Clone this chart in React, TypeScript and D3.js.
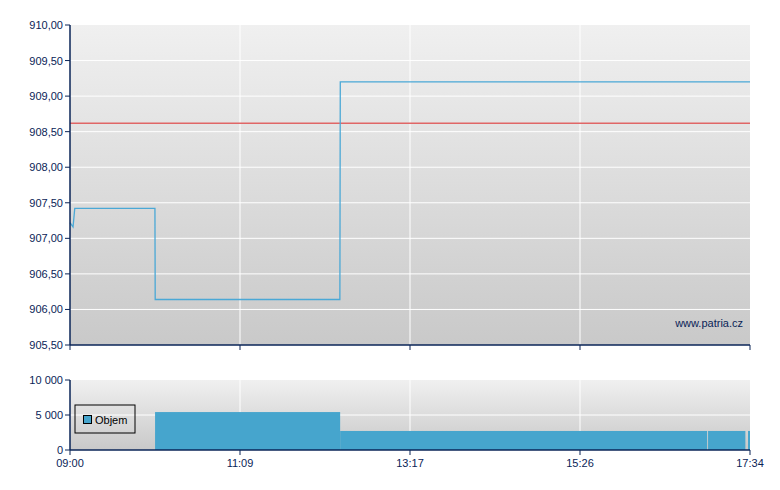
import * as d3 from 'd3'

// minutes after 09:00
const priceMinutes = [0, 2.3, 3.6, 64.2, 64.4, 204, 204.3, 514]
const priceValues = [907.22, 907.16, 907.42, 907.42, 906.14, 906.14, 909.2, 909.2]
const refValue = 908.62

const volStart = [64.3, 204.2, 482.3, 512.5]
const volEnd = [204.2, 481.6, 510.5, 514]
const volValues = [5420, 2720, 2720, 2720]

const timeTicks = [0, 128.5, 257, 385.5, 514]
const timeLabels = ['09:00', '11:09', '13:17', '15:26', '17:34']
const priceTicks = [905.5, 906, 906.5, 907, 907.5, 908, 908.5, 909, 909.5, 910]
const volTicks = [0, 5000, 10000]

const W = 780
const H = 490
const L = 70
const R = 750
const TOP = { y0: 25, y1: 345 }
const BOT = { y0: 380, y1: 450 }
const NAVY = '#0a2457'
const FONT = 'Liberation Sans, Arial, sans-serif'

export default function App() {
  const x = d3.scaleLinear().domain([0, 514]).range([L, R])
  const y = d3.scaleLinear().domain([905.5, 910]).range([TOP.y1, TOP.y0])
  const yv = d3.scaleLinear().domain([0, 10000]).range([BOT.y1, BOT.y0])

  const fmtPrice = (v: number) => v.toFixed(2).replace('.', ',')
  const fmtVol = (v: number) => d3.format(',')(v).replace(/,/g, ' ')

  const pts = priceMinutes.map((m, i) => [m, priceValues[i]] as [number, number])
  const line = d3.line<[number, number]>().x(d => x(d[0])).y(d => y(d[1]))

  return (
    <svg width={W} height={H} style={{ position: 'absolute', left: 0, top: 0 }} fontFamily={FONT}>
      <defs>
        <linearGradient id="bg" x1="0" y1="0" x2="0" y2="1">
          <stop offset="0%" stopColor="#f0f0f0" />
          <stop offset="100%" stopColor="#c9c9c9" />
        </linearGradient>
      </defs>
      <rect width={W} height={H} fill="#fff" />

      {/* price panel */}
      <rect x={L} y={TOP.y0} width={R - L} height={TOP.y1 - TOP.y0} fill="url(#bg)" />
      {priceTicks.slice(1, -1).map(t => (
        <line key={t} x1={L} x2={R} y1={y(t)} y2={y(t)} stroke="#fff" strokeWidth={1} />
      ))}
      {timeTicks.slice(1, -1).map(t => (
        <line key={t} x1={x(t)} x2={x(t)} y1={TOP.y0} y2={TOP.y1} stroke="#fff" strokeWidth={1} />
      ))}
      <line x1={L} x2={R} y1={y(refValue)} y2={y(refValue)} stroke="#e06666" strokeWidth={1.5} />
      <path d={line(pts) ?? ''} fill="none" stroke="#4aa8d6" strokeWidth={1.3} />
      <text x={743} y={327} textAnchor="end" fontSize={11} fill={NAVY}>www.patria.cz</text>

      <line x1={L} x2={L} y1={TOP.y0} y2={TOP.y1} stroke={NAVY} strokeWidth={1.5} />
      <line x1={L} x2={R} y1={TOP.y1} y2={TOP.y1} stroke={NAVY} strokeWidth={1.5} />
      {priceTicks.map(t => (
        <g key={t}>
          <line x1={L - 5} x2={L} y1={y(t)} y2={y(t)} stroke={NAVY} />
          <text x={L - 7} y={y(t) + 4} textAnchor="end" fontSize={11} fill={NAVY}>{fmtPrice(t)}</text>
        </g>
      ))}
      {timeTicks.map(t => (
        <line key={t} x1={x(t)} x2={x(t)} y1={TOP.y1} y2={TOP.y1 + 5} stroke={NAVY} />
      ))}

      {/* volume panel */}
      <rect x={L} y={BOT.y0} width={R - L} height={BOT.y1 - BOT.y0} fill="url(#bg)" />
      <line x1={L} x2={R} y1={yv(5000)} y2={yv(5000)} stroke="#fff" />
      {timeTicks.slice(1, -1).map(t => (
        <line key={t} x1={x(t)} x2={x(t)} y1={BOT.y0} y2={BOT.y1} stroke="#fff" />
      ))}
      {volValues.map((v, i) => (
        <rect key={i} x={x(volStart[i])} y={yv(v)} width={x(volEnd[i]) - x(volStart[i])} height={yv(0) - yv(v)} fill="#46a5cd" />
      ))}

      <rect x={75} y={405} width={60} height={28} fill="none" stroke="#000" />
      <rect x={83.5} y={415.5} width={8} height={8} fill="#46a5cd" stroke="#000" />
      <text x={95} y={424} fontSize={11} fill="#000">Objem</text>

      <line x1={L} x2={L} y1={BOT.y0} y2={BOT.y1} stroke={NAVY} strokeWidth={1.5} />
      <line x1={L} x2={R} y1={BOT.y1} y2={BOT.y1} stroke={NAVY} strokeWidth={1.5} />
      {volTicks.map(t => (
        <g key={t}>
          <line x1={L - 5} x2={L} y1={yv(t)} y2={yv(t)} stroke={NAVY} />
          <text x={L - 7} y={yv(t) + 4} textAnchor="end" fontSize={11} fill={NAVY}>{fmtVol(t)}</text>
        </g>
      ))}
      {timeTicks.map((t, i) => (
        <g key={t}>
          <line x1={x(t)} x2={x(t)} y1={BOT.y1} y2={BOT.y1 + 5} stroke={NAVY} />
          <text x={x(t)} y={BOT.y1 + 17} textAnchor="middle" fontSize={11} fill={NAVY}>{timeLabels[i]}</text>
        </g>
      ))}
    </svg>
  )
}
